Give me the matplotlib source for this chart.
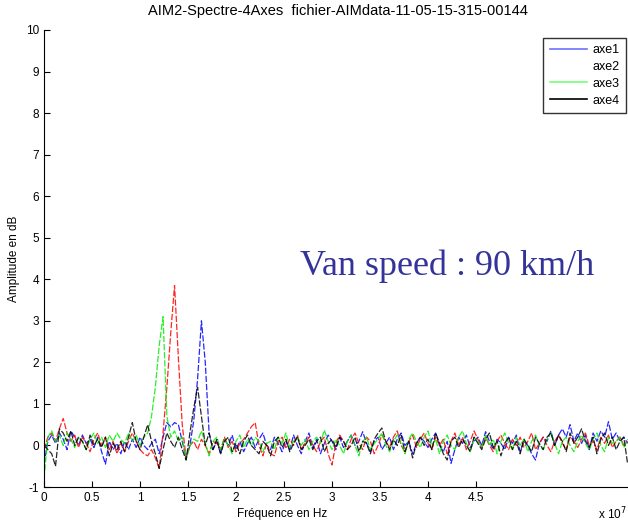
import numpy as np
import matplotlib
matplotlib.use('Agg')
import matplotlib.pyplot as plt
from matplotlib.lines import Line2D

plt.rcParams['font.family'] = ['Liberation Sans', 'DejaVu Sans']
plt.rcParams['axes.unicode_minus'] = False

### spectrum values, one sample every 0.04 (x 10^7 Hz)
step = 0.04

axe1 = [-0.45, 0.1, 0.25, 0.05, 0.3, 0.15, -0.1, 0.35, 0.2, 0.0,
        0.25, 0.05, 0.15, -0.05, 0.2, -0.15, -0.45, 0.1, -0.1, 0.05,
        -0.2, 0.1, -0.1, 0.15, -0.05, 0.2, 0.0, -0.1, 0.05, 0.15,
        -0.2, 0.2, 0.55, 0.45, 0.55, 0.5, 0.1, -0.3, 0.0, 0.6,
        1.6, 3.0, 2.0, 0.3, -0.1, 0.1, -0.2, 0.15, 0.0, 0.25,
        -0.1, 0.1, -0.15, 0.05, 0.2, -0.05, 0.15, 0.3, 0.0, -0.1,
        0.2, 0.05, -0.15, 0.1, -0.1, 0.25, 0.0, -0.2, 0.1, 0.3,
        -0.05, 0.15, -0.2, 0.05, 0.25, 0.1, -0.1, 0.2, -0.05, 0.1,
        0.25, 0.0, 0.1, 0.33, 0.05, -0.15, 0.1, 0.2, -0.1, 0.05,
        0.2, -0.1, 0.15, 0.3, 0.0, 0.1, -0.2, 0.05, 0.2, 0.1,
        -0.05, 0.15, 0.3, 0.0, -0.15, 0.1, -0.43, -0.1, 0.2, 0.05,
        0.25, -0.05, 0.1, 0.2, 0.0, 0.33, 0.1, -0.1, 0.15, 0.05,
        -0.1, 0.2, 0.05, 0.25, -0.15, 0.1, 0.0, -0.2, -0.35, 0.05,
        0.2, 0.1, 0.35, 0.0, 0.25, 0.4, 0.2, 0.5, 0.1, 0.3,
        0.05, 0.25, -0.1, 0.3, 0.1, 0.35, 0.2, 0.57, 0.15, 0.3,
        0.1, 0.2, 0.05]

axe2 = [-0.1, 0.2, 0.3, 0.1, 0.4, 0.65, 0.3, 0.1, 0.25, -0.05,
        0.2, 0.05, -0.15, 0.15, 0.3, 0.0, 0.2, -0.1, 0.1, -0.2,
        0.05, -0.15, 0.1, 0.3, 0.1, -0.1, -0.2, -0.25, -0.1, -0.3,
        -0.55, 0.3, 1.4, 2.7, 3.85, 2.1, 0.5, -0.3, 0.0, 0.1,
        -0.1, 0.15, 0.0, -0.2, 0.1, 0.05, -0.1, 0.2, -0.05, 0.1,
        -0.15, 0.05, 0.15, 0.3, 0.45, 0.55, 0.0, -0.25, 0.05, -0.2,
        -0.25, 0.1, 0.2, -0.05, 0.15, 0.0, 0.25, -0.1, 0.05, 0.2,
        0.0, -0.15, 0.1, 0.2, -0.2, -0.47, 0.05, 0.25, 0.1, -0.1,
        0.15, 0.3, 0.05, -0.1, 0.2, 0.1, -0.2, 0.0, 0.25, 0.1,
        -0.05, 0.2, 0.35, 0.0, -0.15, 0.1, 0.25, -0.05, 0.15, 0.3,
        0.05, -0.1, 0.2, 0.0, 0.15, -0.2, 0.1, 0.3, 0.0, 0.2,
        -0.1, 0.1, 0.35, 0.15, -0.05, 0.2, 0.0, -0.15, 0.1, 0.25,
        0.05, -0.1, 0.15, 0.0, 0.2, -0.05, 0.1, 0.3, -0.1, 0.05,
        0.2, 0.0, -0.15, 0.1, 0.25, 0.05, -0.1, 0.2, 0.1, -0.05,
        0.15, 0.3, 0.0, 0.1, -0.1, 0.2, 0.05, 0.25, -0.05, 0.1,
        0.2, 0.0, 0.1]

axe3 = [-0.8, 0.2, 0.35, 0.1, 0.25, 0.0, 0.3, 0.15, -0.05, 0.2,
        0.1, -0.1, 0.15, 0.3, 0.05, 0.2, -0.05, 0.25, 0.1, 0.3,
        0.15, 0.05, 0.3, 0.1, 0.25, 0.0, 0.2, 0.3, 0.7, 1.4,
        2.4, 3.1, 0.7, 0.2, 0.35, 0.1, 0.2, -0.35, 0.0, 0.15,
        0.1, 0.35, 0.05, -0.25, 0.1, 0.2, -0.1, 0.15, 0.0, -0.2,
        0.1, 0.25, -0.05, 0.15, 0.0, 0.2, 0.1, -0.15, 0.05, 0.1,
        -0.1, 0.2, 0.05, 0.3, -0.05, 0.1, 0.2, 0.0, 0.15, -0.1,
        0.1, 0.2, 0.05, 0.37, 0.1, -0.1, 0.15, 0.0, -0.2, 0.1,
        0.25, 0.0, -0.25, 0.1, 0.2, -0.1, 0.05, 0.15, 0.3, 0.0,
        -0.15, 0.1, 0.25, 0.05, -0.2, 0.15, 0.3, 0.1, -0.05, 0.2,
        0.35, 0.0, 0.15, -0.2, 0.1, 0.25, 0.0, -0.1, 0.2, 0.35,
        0.05, -0.15, 0.2, 0.1, -0.05, 0.25, 0.0, 0.15, -0.2, 0.1,
        0.3, 0.05, -0.1, 0.2, 0.0, 0.15, -0.15, 0.1, 0.25, 0.0,
        -0.1, 0.15, 0.3, 0.05, -0.2, 0.1, 0.2, 0.0, -0.15, 0.1,
        0.25, 0.05, -0.1, 0.15, 0.3, 0.0, -0.15, 0.2, 0.05, 0.1,
        0.2, -0.05, 0.15]

axe4 = [0.0, -0.1, -0.2, -0.5, 0.4, 0.3, 0.1, 0.35, 0.0, 0.2,
        0.1, -0.1, 0.25, 0.0, 0.15, -0.05, 0.2, -0.25, 0.05, -0.1,
        0.1, -0.15, 0.2, 0.55, 0.1, -0.1, 0.2, 0.5, 0.1, -0.2,
        -0.55, -0.1, 0.3, 0.1, -0.05, 0.2, -0.1, -0.35, 0.3, 0.9,
        1.4, 0.7, 0.0, 0.3, -0.1, 0.15, -0.2, 0.1, 0.2, -0.15,
        0.05, -0.2, 0.1, 0.25, 0.0, -0.1, -0.2, 0.1, 0.0, -0.25,
        0.1, 0.2, -0.05, 0.15, -0.15, 0.05, 0.2, -0.1, 0.0, 0.15,
        -0.1, 0.1, 0.2, -0.15, 0.05, 0.15, -0.05, 0.2, 0.1, -0.1,
        0.0, 0.2, -0.15, 0.1, 0.05, -0.2, 0.15, 0.3, 0.42, 0.1,
        -0.1, 0.15, 0.0, 0.25, -0.15, 0.1, -0.3, 0.05, 0.2, 0.0,
        0.15, -0.1, 0.3, 0.05, -0.2, -0.35, 0.1, 0.2, -0.05, 0.15,
        0.0, -0.15, 0.2, 0.05, -0.1, 0.15, 0.3, -0.05, 0.1, -0.25,
        0.05, 0.2, -0.1, 0.1, -0.2, 0.15, 0.0, -0.15, 0.2, 0.05,
        -0.1, 0.2, 0.3, 0.0, 0.25, 0.1, -0.15, 0.3, 0.05, 0.2,
        0.4, 0.1, -0.05, 0.2, -0.2, 0.15, 0.3, 0.0, 0.2, -0.1,
        0.1, 0.2, -0.45]

series = [('axe1', axe1, 'blue'), ('axe2', axe2, 'red'),
          ('axe3', axe3, '#00ee00'), ('axe4', axe4, 'black')]
legend_colors = ['#6f6fff', 'white', '#77ff77', 'black']
x_ticks = [0, 0.5, 1, 1.5, 2, 2.5, 3, 3.5, 4, 4.5]
y_ticks = list(range(-1, 11))

fig = plt.figure(figsize=(6.28, 5.23), dpi=100)
ax = fig.add_axes([44 / 628, 36 / 523, 587.5 / 628, 457 / 523])

for name, vals, col in series:
    freq = np.arange(len(vals)) * step
    ax.plot(freq, vals, color=col, lw=0.9, ls=(0, (5, 1.5)), alpha=0.85)

ax.set_xlim(0, 6.12)
ax.set_ylim(-1, 10)
ax.set_xticks(x_ticks)
ax.set_xticklabels(['0', '0.5', '1', '1.5', '2', '2.5', '3', '3.5', '4', '4.5'])
ax.set_yticks(y_ticks)
ax.tick_params(direction='in', length=4, labelsize=8.5, width=0.8)
ax.spines['top'].set_visible(False)
ax.spines['right'].set_visible(False)

ax.set_title('AIM2-Spectre-4Axes  fichier-AIMdata-11-05-15-315-00144',
             fontsize=10.5, pad=11)
ax.set_xlabel('Fréquence en Hz', fontsize=8.5)
ax.xaxis.set_label_coords(0.405, -0.045)
ax.set_ylabel('Amplitude en dB', fontsize=8.5)
ax.yaxis.set_label_coords(-0.04, 0.5)

fig.text(0.952, 0.008, r'x 10$^{7}$', fontsize=8.5)

fig.text(447 / 628, 1 - 266 / 523, 'Van speed : 90 km/h', color='#333399',
         fontsize=26, family='Liberation Serif', ha='center', va='center')

handles = [Line2D([0], [0], color=c, lw=1.2) for c in legend_colors]
fig.legend(handles, [s[0] for s in series], loc='upper right',
           bbox_to_anchor=(626 / 628, 1 - 38 / 523), fontsize=9,
           frameon=True, fancybox=False, edgecolor='black',
           handlelength=3.0, handletextpad=0.45, borderaxespad=0,
           labelspacing=0.38, borderpad=0.5)

plt.savefig('out.png', dpi=100)
